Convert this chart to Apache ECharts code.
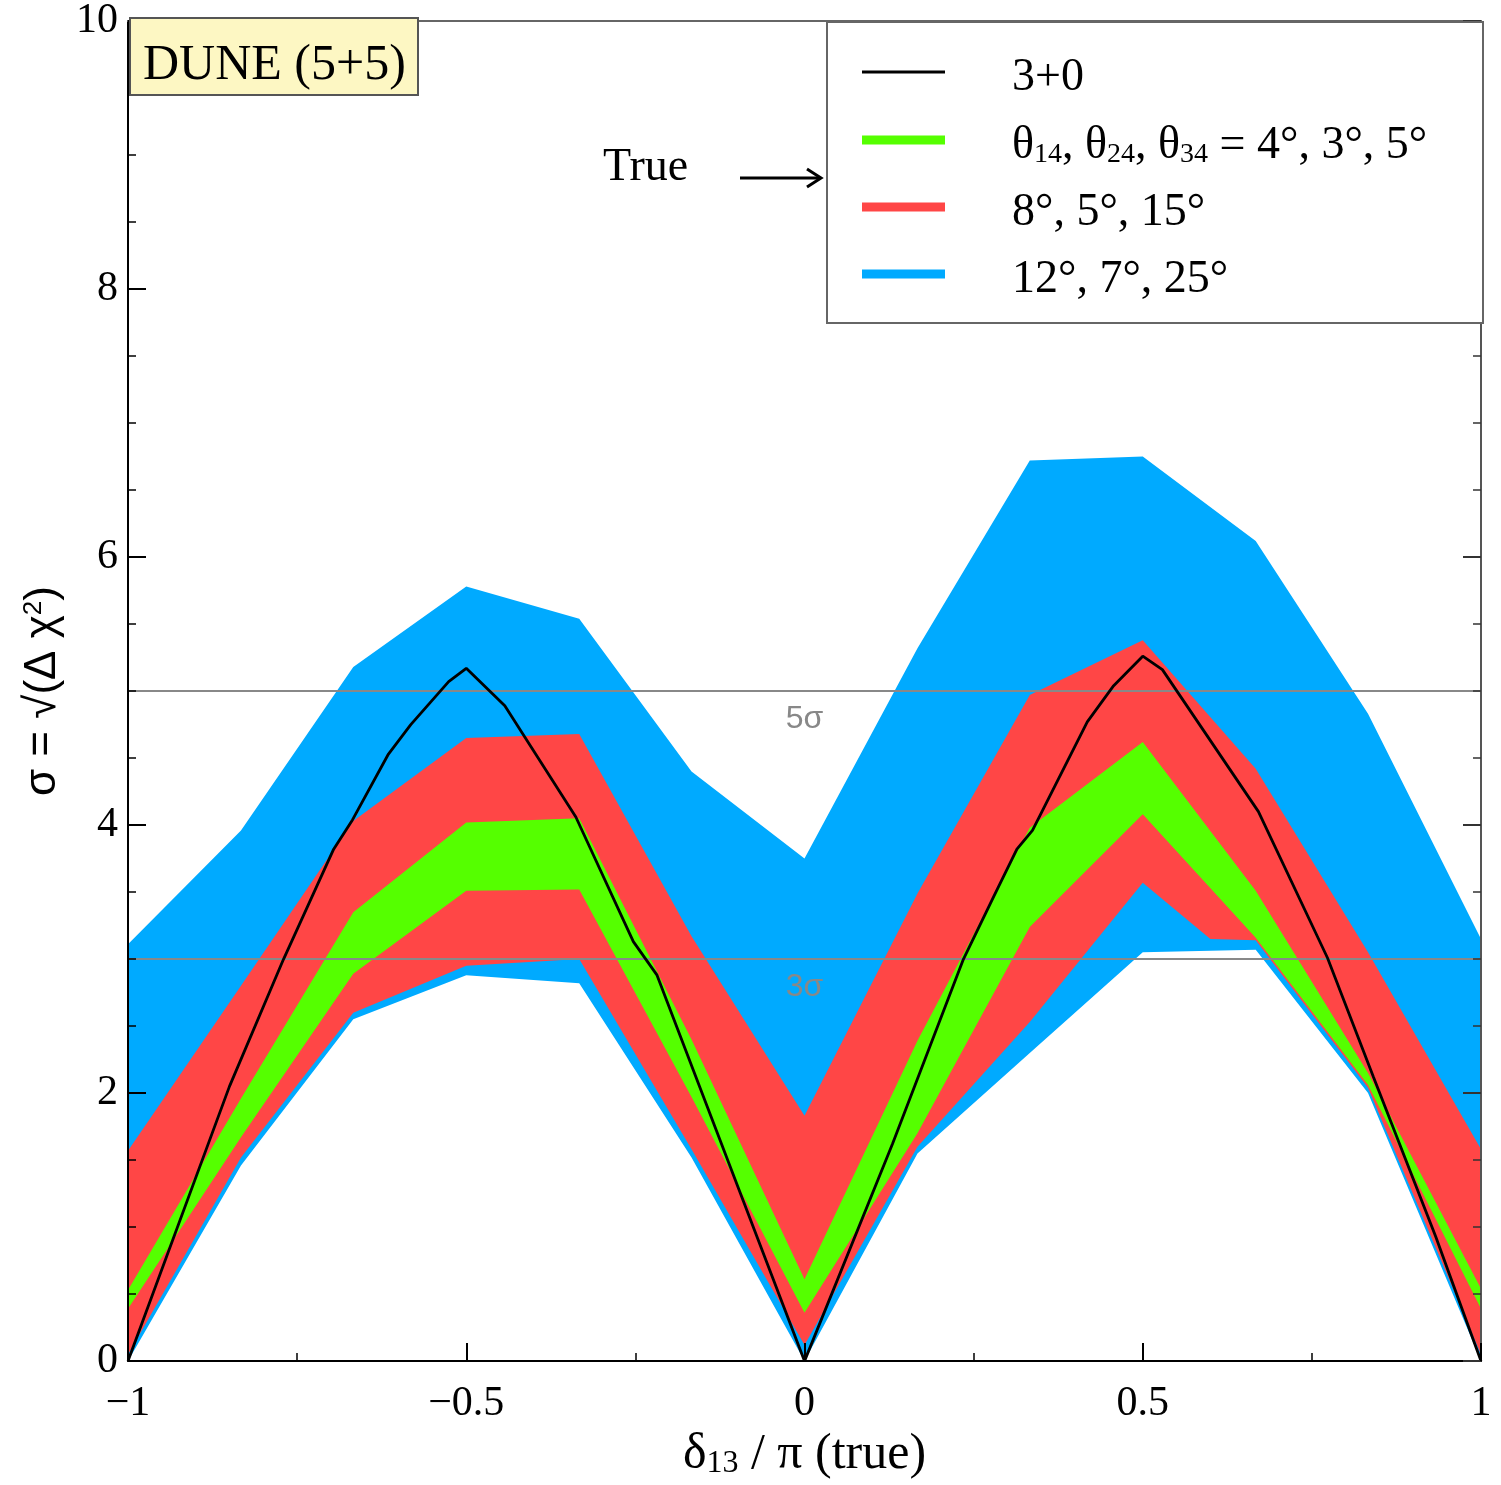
<!DOCTYPE html>
<html>
<head>
<meta charset="utf-8">
<script src="https://cdn.jsdelivr.net/npm/echarts@6/dist/echarts.min.js"></script>
<style>
  html, body { margin: 0; padding: 0; background: #fff; }
  #chart { width: 1501px; height: 1485px; }
</style>
</head>
<body>
<div id="chart"></div>
<script>
// delta_13 / pi (true) sampling of the bands
var xGrid = [-1, -0.833, -0.667, -0.5, -0.333, -0.167, 0, 0.167, 0.333, 0.5, 0.667, 0.833, 1];

// 12, 7, 25 deg band
var blueUpper = [3.11, 3.96, 5.18, 5.78, 5.54, 4.40, 3.75, 5.32, 6.72, 6.75, 6.12, 4.83, 3.15];
var blueLower = [0, 1.46, 2.55, 2.88, 2.82, 1.52, 0, 1.55, 2.30, 3.05, 3.07, 2.00, 0];
// 8, 5, 15 deg band (lower edge has one extra kink near 0.6)
var redUpper = [1.57, 2.80, 4.03, 4.65, 4.68, 3.17, 1.83, 3.49, 4.97, 5.38, 4.42, 3.05, 1.58];
var redLowerX = [-1, -0.833, -0.667, -0.5, -0.333, -0.167, 0, 0.167, 0.333, 0.5, 0.6, 0.667, 0.833, 1];
var redLower = [0.05, 1.52, 2.60, 2.95, 3.00, 1.58, 0.12, 1.60, 2.53, 3.57, 3.15, 3.14, 2.04, 0.05];
// 4, 3, 5 deg band
var greenUpper = [0.53, 1.96, 3.35, 4.02, 4.05, 2.40, 0.61, 2.39, 3.98, 4.62, 3.51, 2.15, 0.54];
var greenLower = [0.39, 1.67, 2.89, 3.51, 3.52, 1.97, 0.36, 1.70, 3.24, 4.08, 3.16, 2.06, 0.39];

// 3+0 curve
var nullX = [-1, -0.85, -0.77, -0.696, -0.668, -0.615, -0.582, -0.526, -0.5, -0.443, -0.338, -0.253, -0.218, 0,
             0.13, 0.235, 0.28, 0.314, 0.337, 0.418, 0.457, 0.5, 0.529, 0.671, 0.773, 0.841, 0.933, 1];
var nullY = [0, 2.05, 3.0, 3.82, 4.04, 4.53, 4.75, 5.07, 5.17, 4.89, 4.06, 3.13, 2.88, 0,
             1.62, 3.0, 3.47, 3.82, 3.96, 4.77, 5.04, 5.26, 5.16, 4.1, 3.01, 2.12, 0.93, 0];

var sigmaLevels = [5, 3];
var sigmaLabels = ['5σ', '3σ'];

var legendNames = ['3+0', 'θ14, θ24, θ34 = 4°, 3°, 5°', '8°, 5°, 15°', '12°, 7°, 25°'];
var colors = { black: '#000000', green: '#55ff00', red: '#ff4646', blue: '#00aaff' };

var serif = 'Liberation Serif';

function bandSeries(name, xsU, up, xsL, lo, color, z) {
  return {
    type: 'custom',
    name: name,
    z: z,
    silent: true,
    coordinateSystem: 'cartesian2d',
    data: [[0, 0]],
    renderItem: function (params, api) {
      var pts = [];
      for (var i = 0; i < xsU.length; i++) pts.push(api.coord([xsU[i], up[i]]));
      for (var j = xsL.length - 1; j >= 0; j--) pts.push(api.coord([xsL[j], lo[j]]));
      return { type: 'polygon', shape: { points: pts }, style: { fill: color } };
    }
  };
}

var chart = echarts.init(document.getElementById('chart'));

var tickStyle = { color: '#000', width: 2 };
var minusFmt = function (v) { return String(v).replace('-', '\u2212'); };

var legendY = [72, 140, 207, 274];
var legendColors = [colors.black, colors.green, colors.red, colors.blue];
var legendWidths = [3, 9, 9, 9];
var legendRich = {
  t: { fontFamily: serif, fontSize: 46, color: '#000' },
  s: { fontFamily: serif, fontSize: 28, color: '#000', verticalAlign: 'bottom' }
};
function legendText(name) {
  // theta indices become subscripts
  return '{t|' + name.replace(/θ(\d\d)/g, 'θ}{s|$1}{t|') + '}';
}

var graphics = [
  { type: 'rect', z: 100, shape: { x: 130, y: 18, width: 288, height: 77 },
    style: { fill: '#fdf7c3', stroke: '#555', lineWidth: 2 } },
  { type: 'text', z: 101, x: 143, y: 66,
    style: { text: 'DUNE (5+5)', fontFamily: serif, fontSize: 50, fill: '#000', verticalAlign: 'middle' } },
  { type: 'rect', z: 100, shape: { x: 827, y: 22, width: 656, height: 301 },
    style: { fill: '#fff', stroke: '#666', lineWidth: 2 } },
  { type: 'text', z: 101, x: 603, y: 168,
    style: { text: 'True', fontFamily: serif, fontSize: 46, fill: '#000', verticalAlign: 'middle' } },
  { type: 'line', z: 101, shape: { x1: 740, y1: 178, x2: 820, y2: 178 },
    style: { stroke: '#000', lineWidth: 3 } },
  { type: 'polyline', z: 101, shape: { points: [[807, 169], [821, 178], [807, 187]] },
    style: { stroke: '#000', lineWidth: 3, fill: null } }
];
for (var k = 0; k < legendNames.length; k++) {
  graphics.push({ type: 'line', z: 101, shape: { x1: 862, y1: legendY[k], x2: 945, y2: legendY[k] },
    style: { stroke: legendColors[k], lineWidth: legendWidths[k] } });
  graphics.push({ type: 'text', z: 101, x: 1012, y: legendY[k] + 6,
    style: { text: legendText(legendNames[k]), rich: legendRich, verticalAlign: 'middle' } });
}

var option = {
  animation: false,
  backgroundColor: '#fff',
  grid: { left: 128, right: 20, top: 14, bottom: 119, containLabel: false },
  xAxis: [{
    type: 'value', min: -1, max: 1, interval: 0.5, position: 'bottom', z: 10,
    axisLine: { onZero: false, lineStyle: { color: '#000', width: 2 } },
    axisTick: { inside: true, length: 18, lineStyle: tickStyle },
    minorTick: { show: true, splitNumber: 2, length: 8, lineStyle: { color: '#000', width: 1.5 } },
    splitLine: { show: false },
    axisLabel: { fontFamily: serif, fontSize: 42, color: '#000', margin: 22, formatter: minusFmt },
    name: '{t|δ}{s|13}{t| / π (true)}',
    nameLocation: 'middle', nameGap: 64,
    nameTextStyle: { rich: {
      t: { fontFamily: serif, fontSize: 50, color: '#000' },
      s: { fontFamily: serif, fontSize: 32, color: '#000', verticalAlign: 'bottom' }
    } }
  }, {
    type: 'value', min: -1, max: 1, position: 'top', z: 10,
    axisLine: { onZero: false, lineStyle: { color: '#666', width: 2 } },
    axisTick: { show: false }, axisLabel: { show: false }, splitLine: { show: false }
  }],
  yAxis: [{
    type: 'value', min: 0, max: 10, interval: 2, position: 'left', z: 10,
    axisLine: { onZero: false, lineStyle: { color: '#000', width: 2 } },
    axisTick: { inside: true, length: 18, lineStyle: tickStyle },
    minorTick: { show: true, splitNumber: 4, length: 8, lineStyle: { color: '#000', width: 1.5 } },
    splitLine: { show: false },
    axisLabel: { fontFamily: serif, fontSize: 42, color: '#000', margin: 10 },
    name: '{t|σ = √(Δ χ}{s|2}{t|)}',
    nameLocation: 'middle', nameGap: 58,
    nameTextStyle: { rich: {
      t: { fontFamily: 'Liberation Sans', fontSize: 44, color: '#000' },
      s: { fontFamily: 'Liberation Sans', fontSize: 26, color: '#000', verticalAlign: 'top' }
    } }
  }, {
    type: 'value', min: 0, max: 10, interval: 2, position: 'right', z: 10,
    axisLine: { onZero: false, lineStyle: { color: '#555', width: 2 } },
    axisTick: { inside: true, length: 18, lineStyle: { color: '#333', width: 2 } },
    minorTick: { show: true, splitNumber: 4, length: 8, lineStyle: { color: '#333', width: 1.5 } },
    splitLine: { show: false }, axisLabel: { show: false }
  }],
  series: [
    bandSeries(legendNames[3], xGrid, blueUpper, xGrid, blueLower, colors.blue, 2),
    bandSeries(legendNames[2], xGrid, redUpper, redLowerX, redLower, colors.red, 3),
    bandSeries(legendNames[1], xGrid, greenUpper, xGrid, greenLower, colors.green, 4),
    {
      type: 'line', name: legendNames[0], z: 6,
      data: nullX.map(function (x, i) { return [x, nullY[i]]; }),
      showSymbol: false, silent: true,
      lineStyle: { color: '#000', width: 2.8 },
      markLine: {
        silent: true, symbol: 'none',
        lineStyle: { color: '#888', width: 2, type: 'solid' },
        label: { position: 'insideMiddleBottom', distance: 12, color: '#888',
                  fontFamily: 'Liberation Sans', fontSize: 32 },
        data: sigmaLevels.map(function (v, i) {
          return { yAxis: v, label: { formatter: sigmaLabels[i] } };
        })
      }
    }
  ],
  graphic: graphics
};

chart.setOption(option);
window.onresize = function () { chart.resize(); };
</script>
</body>
</html>
